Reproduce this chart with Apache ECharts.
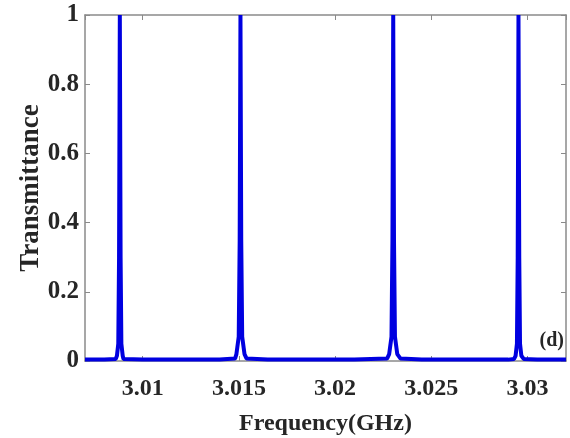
<!DOCTYPE html>
<html>
<head>
<meta charset="utf-8">
<script src="https://cdn.jsdelivr.net/npm/echarts@6/dist/echarts.min.js"></script>
<style>
	html, body { margin: 0; padding: 0; background: #fff; }
	#chart { width: 570px; height: 438px; }
</style>
</head>
<body>
<div id="chart"></div>
<script>
// values (GHz / transmittance)
const freqGHz = [
	3.0070, 3.0080, 3.0086, 3.00866, 3.00873, 3.00877, 3.00881, 3.00885, 3.00889, 3.00896, 3.0090, 3.0100,
	3.0120, 3.0140, 3.0148, 3.01487, 3.01499, 3.01504, 3.01508, 3.01512, 3.01517, 3.01529, 3.0154, 3.0165,
	3.0190, 3.0210, 3.0227, 3.02281, 3.02293, 3.02298, 3.02302, 3.02306, 3.02311, 3.02323, 3.0234, 3.0245,
	3.0270, 3.0290, 3.0293, 3.02938, 3.02945, 3.02949, 3.02953, 3.02957, 3.02961, 3.02968, 3.0298, 3.0305,
	3.0320
];
const transmittance = [
	0.004, 0.004, 0.006, 0.015, 0.05, 0.30, 1.00, 0.30, 0.05, 0.015, 0.006, 0.004,
	0.004, 0.004, 0.007, 0.02, 0.07, 0.35, 1.00, 0.35, 0.07, 0.02, 0.007, 0.004,
	0.004, 0.004, 0.007, 0.02, 0.07, 0.35, 1.00, 0.35, 0.07, 0.02, 0.007, 0.004,
	0.004, 0.004, 0.006, 0.015, 0.05, 0.30, 1.00, 0.30, 0.05, 0.015, 0.006, 0.004,
	0.004
];
const xRange = [3.007, 3.032];
const yTicks = [0, 0.2, 0.4, 0.6, 0.8, 1];

const fontFamily = "'Liberation Serif', 'Times New Roman', serif";
const axisGray = "#8a8a8a";
const textColor = "#262626";

const points = freqGHz.map((f, i) => [f, transmittance[i]]);

const chart = echarts.init(document.getElementById("chart"));

const mirrorAxis = {
	axisLine: { show: true, onZero: false, lineStyle: { color: axisGray, width: 1.5 } },
	axisTick: { show: true, inside: true, length: 5, lineStyle: { color: axisGray } },
	axisLabel: { show: false },
	splitLine: { show: false }
};

chart.setOption({
	animation: false,
	grid: { left: 85, right: 4, top: 15, bottom: 77, containLabel: false, outerBoundsMode: "none" },
	xAxis: [
		{
			type: "value",
			min: xRange[0],
			max: xRange[1],
			splitNumber: 5,
			name: "Frequency(GHz)",
			nameLocation: "middle",
			nameGap: 51,
			nameMoveOverlap: false,
			nameTextStyle: { fontFamily, fontWeight: "bold", fontSize: 24, color: textColor },
			axisLine: { show: true, onZero: false, lineStyle: { color: axisGray, width: 1.5 } },
			axisTick: { show: true, inside: true, length: 5, lineStyle: { color: axisGray } },
			axisLabel: {
				showMinLabel: false,
				showMaxLabel: false,
				margin: 16,
				fontFamily,
				fontWeight: "bold",
				fontSize: 24,
				color: textColor,
				formatter: v => String(+v.toFixed(3))
			},
			splitLine: { show: false }
		},
		Object.assign({ type: "value", position: "top", min: xRange[0], max: xRange[1], splitNumber: 5 }, mirrorAxis)
	],
	yAxis: [
		{
			type: "value",
			min: yTicks[0],
			max: yTicks[yTicks.length - 1],
			interval: 0.2,
			name: "Transmittance",
			nameLocation: "middle",
			nameGap: 40,
			nameMoveOverlap: false,
			nameTextStyle: { fontFamily, fontWeight: "bold", fontSize: 27, color: textColor },
			axisLine: { show: true, onZero: false, lineStyle: { color: axisGray, width: 1.5 } },
			axisTick: { show: true, inside: true, length: 5, lineStyle: { color: axisGray } },
			axisLabel: {
				margin: 6,
				fontFamily,
				fontWeight: "bold",
				fontSize: 25,
				color: textColor,
				formatter: v => String(+v.toFixed(1))
			},
			splitLine: { show: false }
		},
		Object.assign({ type: "value", position: "right", min: 0, max: 1, interval: 0.2 }, mirrorAxis)
	],
	graphic: [
		{
			type: "text",
			right: 6,
			top: 331,
			style: { text: "(d)", fontFamily, fontWeight: "bold", fontSize: 20, fill: textColor }
		}
	],
	series: [
		{
			type: "line",
			data: points,
			showSymbol: false,
			clip: false,
			lineStyle: { color: "#0000e0", width: 4 },
			z: 5
		}
	]
});
</script>
</body>
</html>
